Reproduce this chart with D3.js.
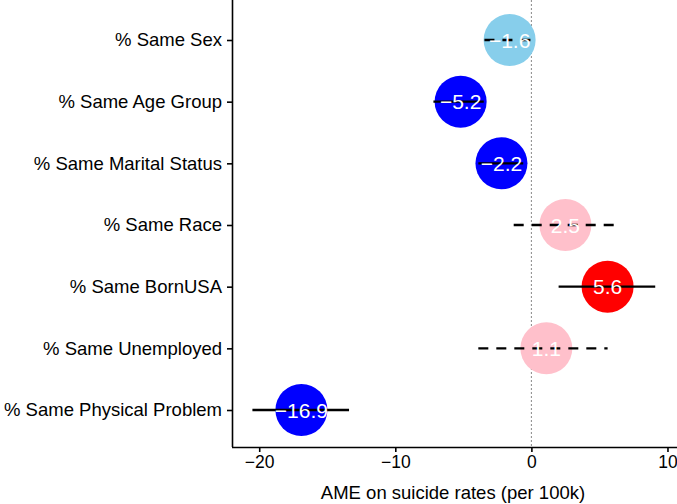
<!DOCTYPE html>
<html><head><meta charset="utf-8">
<script src="https://cdn.jsdelivr.net/npm/d3@7"></script>
<style>body{margin:0;background:#fff}svg{display:block}</style>
</head><body>
<svg id="c" width="677" height="504"></svg>
<script>
const categories = ["% Same Sex","% Same Age Group","% Same Marital Status","% Same Race","% Same BornUSA","% Same Unemployed","% Same Physical Problem"];
const estimates = [-1.6,-5.2,-2.2,2.5,5.6,1.1,-16.9];
const lower = [-3.45,-7.2,-3.9,-1.3,2.0,-3.9,-20.5];
const upper = [0.2,-3.5,-0.6,6.3,9.1,5.6,-13.4];
const significant = [false,true,true,false,true,false,true];
const xTicks = [-20,-10,0,10];
const xTitle = "AME on suicide rates (per 100k)";

const data = categories.map((c,i)=>({c, est:estimates[i], lo:lower[i], hi:upper[i], sig:significant[i]}));
const color = d => d.est < 0 ? (d.sig ? "#0000FF" : "#87CEEB") : (d.sig ? "#FF0000" : "#FFC0CB");

const svg = d3.select("#c");
const L = 232, R = 677, T = 0, B = 447;
const x = d3.scaleLinear().domain([-22, 10.7]).range([L, R]);
const y = d3.scalePoint().domain(categories).range([40, 410]);
const font = "Liberation Sans, Arial, sans-serif";

// zero line
svg.append("line").attr("x1", x(0)).attr("x2", x(0)).attr("y1", T).attr("y2", B)
  .attr("stroke", "#888").attr("stroke-width", 1).attr("stroke-dasharray", "2,2");

const g = svg.selectAll("g.pt").data(data).join("g");
g.append("circle").attr("cx", d=>x(d.est)).attr("cy", d=>y(d.c)).attr("r", 26).attr("fill", color);
g.append("line").attr("x1", d=>x(d.lo)).attr("x2", d=>x(d.hi)).attr("y1", d=>y(d.c)).attr("y2", d=>y(d.c))
  .attr("stroke", "#000").attr("stroke-width", 2.3)
  .attr("stroke-dasharray", d=>d.sig ? null : "10,8");
g.append("text").attr("x", d=>x(d.est)).attr("y", d=>y(d.c)).attr("dy", "0.36em")
  .attr("text-anchor", "middle").attr("fill", "#fff").attr("font-family", font).attr("font-size", 21)
  .text(d=>d3.format(".1f")(d.est).replace("-", "\u2212"));

// axes
const xAxis = svg.append("g").attr("transform", `translate(0,${B})`)
  .call(d3.axisBottom(x).tickValues(xTicks).tickSize(5).tickPadding(4).tickFormat(d=>String(d).replace("-", "\u2212")));
xAxis.select(".domain").attr("d", `M${L},0.5H${R}`).attr("stroke-width", 1.6);
xAxis.selectAll(".tick line").attr("stroke-width", 1.6);
xAxis.selectAll("text").attr("font-family", font).attr("font-size", 17.5).attr("fill", "#000");

const yAxis = svg.append("g").attr("transform", `translate(${L},0)`)
  .call(d3.axisLeft(y).tickSize(5).tickPadding(5));
yAxis.select(".domain").attr("d", `M0.5,${T}V${B}`).attr("stroke-width", 1.6);
yAxis.selectAll(".tick line").attr("stroke-width", 1.6);
yAxis.selectAll("text").attr("font-family", font).attr("font-size", 18.5).attr("fill", "#000");

svg.append("text").attr("x", 453).attr("y", 499).attr("text-anchor", "middle")
  .attr("font-family", font).attr("font-size", 18.5).text(xTitle);
</script>
</body></html>
